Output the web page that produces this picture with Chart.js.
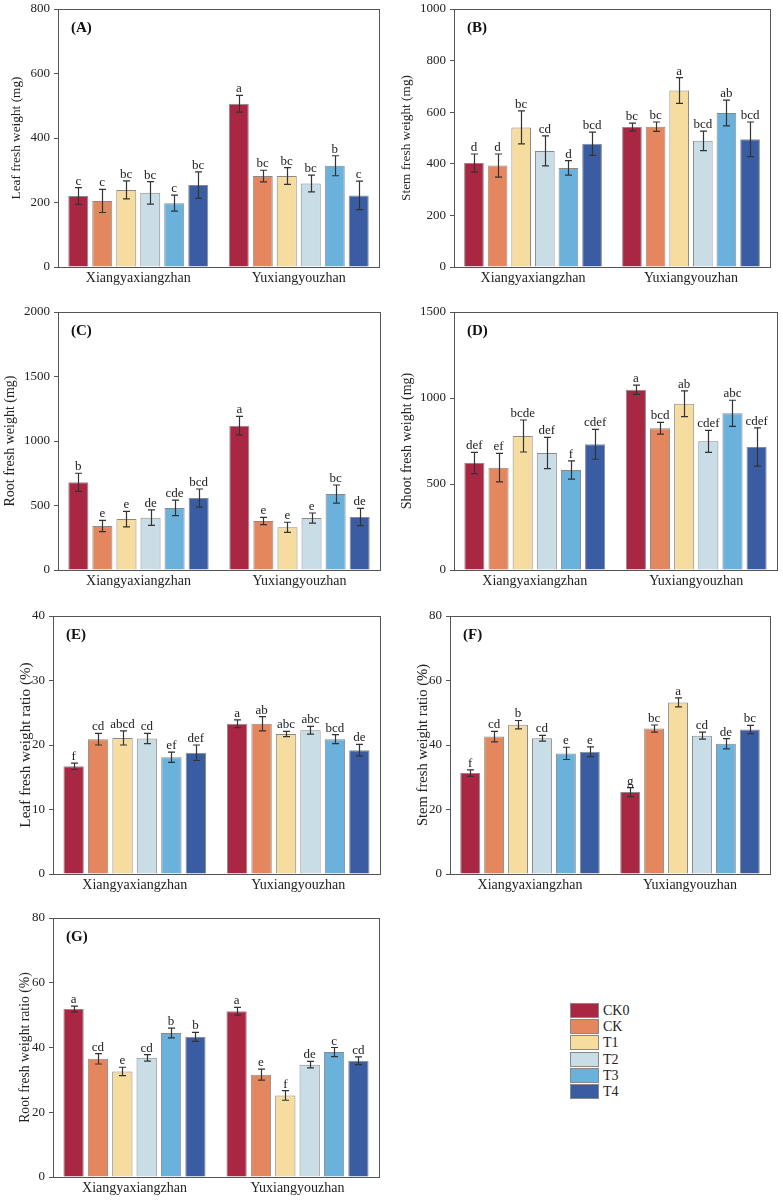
<!DOCTYPE html>
<html>
<head>
<meta charset="utf-8">
<script src="https://cdn.jsdelivr.net/npm/chart.js@4.4.1/dist/chart.umd.min.js"></script>
<style>
  body { margin: 0; background: #fff; width: 783px; height: 1201px; position: relative; overflow: hidden;
         font-family: "Liberation Serif", "Times New Roman", serif; color: #222; }
  .panel { position: absolute; }
  .lg-box { position: absolute; width: 27px; height: 13px; border: 1px solid #888; }
  .lg-txt { position: absolute; font-size: 14px; line-height: 15px; }
</style>
</head>
<body>
<div id="legend"></div>
<script>
const cultivars = ["Xiangyaxiangzhan", "Yuxiangyouzhan"];
const treatments = ["CK0", "CK", "T1", "T2", "T3", "T4"];
const colours = ["#AA2744", "#E5875E", "#F7DCA0", "#C8DDE6", "#6AB1DB", "#3A5CA3"];

// one row per treatment: [Xiangyaxiangzhan, Yuxiangyouzhan]
const leafFW    = [[220, 506], [205, 282], [239, 282], [230, 259], [198, 314], [254, 222]];
const leafFWErr = [[26, 26], [36, 18], [28, 26], [35, 26], [25, 31], [41, 44]];
const leafFWSig = [["c", "a"], ["c", "bc"], ["bc", "bc"], ["bc", "bc"], ["c", "b"], ["bc", "c"]];

const stemFW    = [[403, 543], [393, 544], [541, 684], [450, 489], [384, 597], [478, 495]];
const stemFWErr = [[35, 15], [45, 18], [64, 50], [58, 38], [28, 50], [45, 67]];
const stemFWSig = [["d", "bc"], ["d", "bc"], ["bc", "a"], ["cd", "bcd"], ["d", "ab"], ["bcd", "bcd"]];

const rootFW    = [[680, 1119], [341, 380], [395, 331], [406, 403], [481, 589], [558, 411]];
const rootFWErr = [[70, 72], [44, 28], [60, 39], [60, 39], [60, 70], [70, 67]];
const rootFWSig = [["b", "a"], ["e", "e"], ["e", "e"], ["de", "e"], ["cde", "bc"], ["bcd", "de"]];

const shootFW    = [[622, 1048], [595, 824], [779, 967], [680, 748], [581, 911], [731, 715]];
const shootFWErr = [[62, 27], [83, 34], [93, 75], [91, 64], [53, 76], [87, 111]];
const shootFWSig = [["def", "a"], ["ef", "bcd"], ["bcde", "ab"], ["def", "cdef"], ["f", "abc"], ["cdef", "cdef"]];

const leafRatio    = [[16.7, 23.3], [20.9, 23.3], [21.1, 21.7], [21.0, 22.3], [18.1, 20.9], [18.8, 19.2]];
const leafRatioErr = [[0.5, 0.6], [0.9, 1.1], [1.1, 0.4], [0.8, 0.6], [0.8, 0.7], [1.2, 0.9]];
const leafRatioSig = [["f", "a"], ["cd", "ab"], ["abcd", "abc"], ["cd", "abc"], ["ef", "bcd"], ["def", "de"]];

const stemRatio    = [[31.3, 25.4], [42.6, 45.1], [46.3, 53.2], [42.1, 42.9], [37.4, 40.4], [37.9, 44.8]];
const stemRatioErr = [[1.0, 1.4], [1.6, 1.1], [1.3, 1.4], [0.9, 1.1], [1.9, 1.6], [1.5, 1.3]];
const stemRatioSig = [["f", "g"], ["cd", "bc"], ["b", "a"], ["cd", "cd"], ["e", "de"], ["e", "bc"]];

const rootRatio    = [[51.9, 51.2], [36.5, 31.6], [32.6, 25.2], [36.8, 34.7], [44.5, 38.6], [43.3, 35.9]];
const rootRatioErr = [[0.9, 1.2], [1.6, 1.7], [1.3, 1.5], [1.0, 1.0], [1.5, 1.4], [1.4, 1.2]];
const rootRatioSig = [["a", "a"], ["cd", "e"], ["e", "f"], ["cd", "de"], ["b", "c"], ["b", "cd"]];

const FONT = "'Liberation Serif', 'Times New Roman', serif";

// box = plot area [left, top, right, bottom] in page pixels
const panels = [
    { tag: "(A)", title: "Leaf fresh weight (mg)", titleSize: 13.3, mean: leafFW, err: leafFWErr, sig: leafFWSig, max: 800, step: 200, box: [58, 9, 379, 267], axisW: 49 },
    { tag: "(B)", title: "Stem fresh weight (mg)", titleSize: 13.3, mean: stemFW, err: stemFWErr, sig: stemFWSig, max: 1000, step: 200, box: [454, 9, 770, 267], axisW: 55 },
    { tag: "(C)", title: "Root fresh weight (mg)", titleSize: 14, mean: rootFW, err: rootFWErr, sig: rootFWSig, max: 2000, step: 500, box: [58, 312, 380, 570], axisW: 56 },
    { tag: "(D)", title: "Shoot fresh weight (mg)", titleSize: 14, mean: shootFW, err: shootFWErr, sig: shootFWSig, max: 1500, step: 500, box: [454, 312, 777, 570], axisW: 55 },
    { tag: "(E)", title: "Leaf fresh weight ratio (%)", titleSize: 15.2, mean: leafRatio, err: leafRatioErr, sig: leafRatioSig, max: 40, step: 10, box: [53, 616, 380, 874], axisW: 36 },
    { tag: "(F)", title: "Stem fresh weight ratio (%)", titleSize: 14.6, mean: stemRatio, err: stemRatioErr, sig: stemRatioSig, max: 80, step: 20, box: [450, 616, 770, 874], axisW: 36 },
    { tag: "(G)", title: "Root fresh weight ratio (%)", titleSize: 13.7, mean: rootRatio, err: rootRatioErr, sig: rootRatioSig, max: 80, step: 20, box: [53, 918, 379, 1177], axisW: 36 }
];

// error bars, letters, panel tag and the closed frame
const extras = {
    id: "extras",
    afterDatasetsDraw(chart, args, opts) {
        const p = opts.panel;
        const ctx = chart.ctx;
        const ys = chart.scales.y;
        const a = chart.chartArea;
        ctx.save();
        chart.data.datasets.forEach((ds, i) => {
            chart.getDatasetMeta(i).data.forEach((bar, j) => {
                const v = ds.data[j], e = p.err[i][j];
                const top = ys.getPixelForValue(v + e);
                const bot = ys.getPixelForValue(v - e);
                const x = Math.round(bar.x) + 0.5;
                ctx.strokeStyle = "#333";
                ctx.lineWidth = 1.2;
                ctx.beginPath();
                ctx.moveTo(x, top); ctx.lineTo(x, bot);
                ctx.moveTo(x - 3.5, top); ctx.lineTo(x + 3.5, top);
                ctx.moveTo(x - 3.5, bot); ctx.lineTo(x + 3.5, bot);
                ctx.stroke();
                ctx.fillStyle = "#222";
                ctx.font = "13px " + FONT;
                ctx.textAlign = "center";
                ctx.textBaseline = "alphabetic";
                ctx.fillText(p.sig[i][j], bar.x, top - 3);
            });
        });
        ctx.font = "bold 15px " + FONT;
        ctx.textAlign = "left";
        ctx.textBaseline = "middle";
        ctx.fillStyle = "#111";
        ctx.fillText(p.tag, a.left + 13, a.top + 19);
        ctx.strokeStyle = "#555";
        ctx.lineWidth = 1;
        ctx.strokeRect(Math.round(a.left) + 0.5, Math.round(a.top) + 0.5,
                       Math.round(a.right - a.left), Math.round(a.bottom - a.top));
        ctx.restore();
    }
};

panels.forEach(p => {
    const padTop = 12, padRight = 6, xAxisH = 32;
    const plotW = p.box[2] - p.box[0], plotH = p.box[3] - p.box[1];
    const div = document.createElement("div");
    div.className = "panel";
    div.style.left = (p.box[0] - p.axisW) + "px";
    div.style.top = (p.box[1] - padTop) + "px";
    const canvas = document.createElement("canvas");
    canvas.width = p.axisW + plotW + padRight;
    canvas.height = padTop + plotH + xAxisH;
    div.appendChild(canvas);
    document.body.appendChild(div);

    new Chart(canvas.getContext("2d"), {
        type: "bar",
        data: {
            labels: cultivars,
            datasets: treatments.map((t, i) => ({
                label: t,
                data: p.mean[i],
                backgroundColor: colours[i],
                borderColor: "#8a8a8a",
                borderWidth: 1,
                categoryPercentage: 0.897,
                barPercentage: 0.833
            }))
        },
        options: {
            responsive: false,
            animation: false,
            devicePixelRatio: 1,
            layout: { padding: { top: padTop, right: padRight, left: 0, bottom: 0 } },
            plugins: {
                legend: { display: false },
                tooltip: { enabled: false },
                extras: { panel: p }
            },
            scales: {
                x: {
                    grid: { drawOnChartArea: false, drawTicks: false },
                    border: { display: true, color: "#555", width: 1 },
                    ticks: { color: "#222", padding: 3, font: { family: FONT, size: 14 } },
                    afterFit: s => { s.height = xAxisH; }
                },
                y: {
                    min: 0,
                    max: p.max,
                    grid: { drawOnChartArea: false, drawTicks: true, tickLength: 4, color: "#555" },
                    border: { display: true, color: "#555", width: 1 },
                    ticks: { stepSize: p.step, color: "#222", padding: 4, font: { family: FONT, size: 13 },
                             callback: v => String(v) },
                    title: { display: true, text: p.title, color: "#222", padding: 0,
                             font: { family: FONT, size: p.titleSize } },
                    afterFit: s => { s.width = p.axisW; }
                }
            }
        },
        plugins: [extras]
    });
});

// legend
const legend = document.getElementById("legend");
treatments.forEach((t, i) => {
    const top = 1003 + i * 16.2;
    const box = document.createElement("div");
    box.className = "lg-box";
    box.style.left = "570px";
    box.style.top = top + "px";
    box.style.background = colours[i];
    legend.appendChild(box);
    const txt = document.createElement("div");
    txt.className = "lg-txt";
    txt.style.left = "603px";
    txt.style.top = top + "px";
    txt.textContent = t;
    legend.appendChild(txt);
});
</script>
</body>
</html>
